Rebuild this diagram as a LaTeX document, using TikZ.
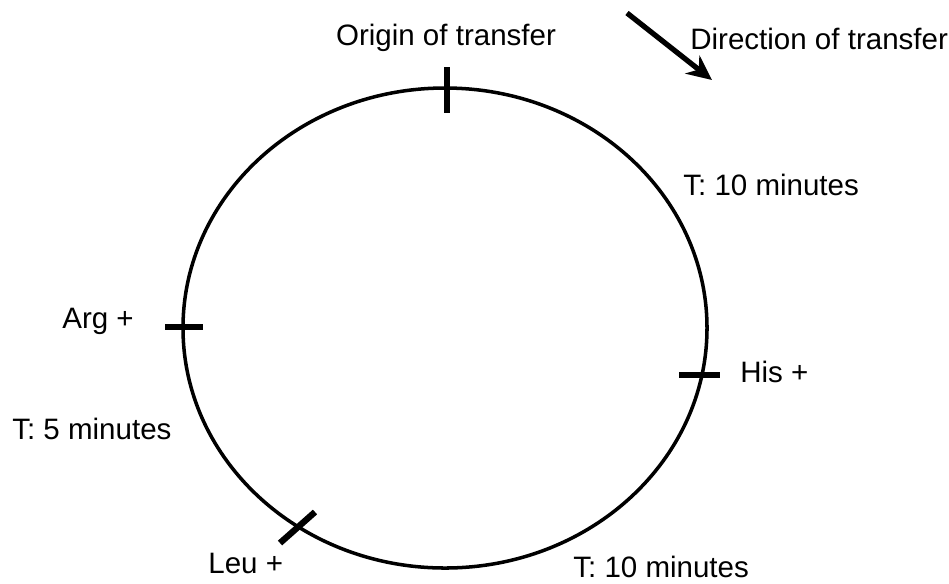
\documentclass[tikz,border=0pt]{standalone}
\usepackage{fontspec}
\setmainfont{Liberation Sans}
\usetikzlibrary{arrows.meta}

\begin{document}
\begin{tikzpicture}[
    x={(0.02cm,0cm)}, y={(0cm,-0.02cm)},   % one unit = one pixel of the sheet
    ring/.style={draw=black, line width=2pt},
    notch/.style={draw=black, line width=3.6pt},
    flow/.style={-{Stealth[length=0.5cm,width=0.46cm]}, line width=3pt},
    lbl/.style={font=\fontsize{16.8}{20}\selectfont, inner sep=0pt}
]

    % cornice della figura
    \useasboundingbox (0,0) rectangle (949,583);

    % =========================================================================
    % Anello del trasferimento
    % =========================================================================
    \draw[ring] (445,328) ellipse [x radius=262, y radius=240];

    % Tacche sui punti dei marcatori
    \draw[notch] (447,67) -- (447,113);      % origine
    \draw[notch] (165,327) -- (203,327);     % Arg
    \draw[notch] (679,375) -- (720,375);     % His
    \draw[notch] (280,543) -- (315,512);     % Leu

    % =========================================================================
    % Verso del trasferimento
    % =========================================================================
    \coordinate (flowstart) at (627,13);
    \coordinate (flowend) at (712,80);
    \draw[flow] (flowstart) -- (flowend);

    % Etichette
    \node[lbl, anchor=base] (origin) at (446,45) {Origin of transfer};
    \node[lbl, anchor=base west] (direction) at (690,49) {Direction of transfer};
    \node[lbl, anchor=base west] (tenup) at (683,195) {T: 10 minutes};
    \node[lbl, anchor=base west] (arg) at (62,328) {Arg +};
    \node[lbl, anchor=base west] (his) at (740,382) {His +};
    \node[lbl, anchor=base west] (five) at (12,439) {T: 5 minutes};
    \node[lbl, anchor=base west] (leu) at (208,573) {Leu +};
    \node[lbl, anchor=base west] (tendown) at (573,577) {T: 10 minutes};

\end{tikzpicture}
\end{document}
